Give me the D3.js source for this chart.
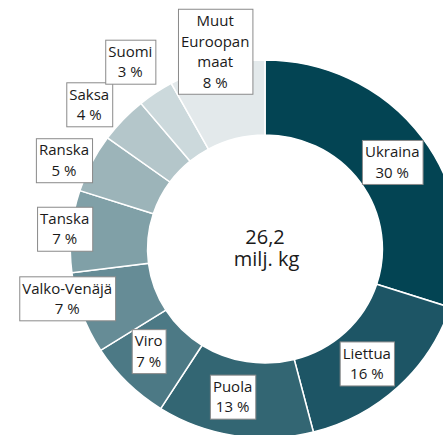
<!DOCTYPE html>
<html>
<head>
<meta charset="utf-8">
<script src="https://cdn.jsdelivr.net/npm/d3@7"></script>
<style>
  body { margin: 0; background: #fff; }
  svg { display: block; font-family: "Open Sans", "Noto Sans", sans-serif; }
</style>
</head>
<body>
<div id="chart"></div>
<script>
// ---- data ----
const countries = ["Ukraina", "Liettua", "Puola", "Viro", "Valko-Venäjä", "Tanska", "Ranska", "Saksa", "Suomi", "Muut Euroopan maat"];
const shares = [30, 16, 13, 7, 7, 7, 5, 4, 3, 8];
const totalLabel = ["26,2", "milj. kg"];

// ---- layout ----
const W = 443, H = 435;
const cx = 265, cy = 249;
const sx = 1.03;            // the source picture is a bit stretched sideways
const rOuter = 189, rInner = 114;
const colors = ["#034453", "#1d5565", "#336673", "#4c7985", "#668c96", "#80a0a7", "#9cb4b9", "#b4c6ca", "#ccd9dc", "#e3e9eb"];
// label lines (Excel wraps the long one)
const labelLines = [["Ukraina"], ["Liettua"], ["Puola"], ["Viro"], ["Valko-Venäjä"], ["Tanska"], ["Ranska"], ["Saksa"], ["Suomi"], ["Muut", "Euroopan", "maat"]];
// manual label shifts from the arc centroid (labels dragged out like in the original)
const labelShift = [[1, 2], [-5, 4], [-8, -2], [-6, -5], [-51, -2], [-45, -6], [-62, -20], [-62, -41], [-47, -62], [-11, -51]];

const svg = d3.select("#chart").append("svg")
    .attr("width", W)
    .attr("height", H);

const data = countries.map((c, i) => ({name: c, value: shares[i], i: i}));

const pie = d3.pie()
    .value(d => d.value)
    .sort(null);

const arc = d3.arc()
    .innerRadius(rInner)
    .outerRadius(rOuter);

const arcs = pie(data);

const g = svg.append("g")
    .attr("transform", "translate(" + cx + "," + cy + ")");

g.append("g")
    .attr("transform", "scale(" + sx + ",1)")
  .selectAll("path")
  .data(arcs)
  .join("path")
    .attr("d", arc)
    .attr("fill", d => colors[d.data.i])
    .attr("stroke", "#fff")
    .attr("stroke-width", 1.5);

// centre text
g.append("text")
    .attr("text-anchor", "middle")
    .attr("font-size", 20)
    .attr("fill", "#1a1a1a")
  .selectAll("tspan")
  .data(totalLabel)
  .join("tspan")
    .attr("x", (d, i) => i * 1.5)
    .attr("y", (d, i) => -5 + i * 22)
    .text(d => d);

// labels
const lineH = 20.5;
const lbl = g.selectAll(".lbl")
  .data(arcs)
  .join("g")
    .attr("class", "lbl")
    .attr("transform", d => {
        const c = arc.centroid(d);
        const s = labelShift[d.data.i];
        return "translate(" + (c[0] * sx + s[0]) + "," + (c[1] + s[1]) + ")";
    });

lbl.each(function(d) {
    const sel = d3.select(this);
    const lines = labelLines[d.data.i].concat([d.data.value + " %"]);
    const box = sel.append("rect")
        .attr("fill", "#fff")
        .attr("stroke", "#8a8a8a")
        .attr("stroke-width", 1);
    const t = sel.append("text")
        .attr("text-anchor", "middle")
        .attr("font-size", 15)
        .attr("fill", "#1a1a1a");
    const y0 = -(lines.length - 1) * lineH / 2;
    t.selectAll("tspan")
      .data(lines)
      .join("tspan")
        .attr("x", 0)
        .attr("y", (l, i) => y0 + i * lineH + 5.5)
        .text(l => l);
    const bb = t.node().getBBox();
    const w = bb.width + 6, h = lines.length * lineH + 3;
    box.attr("x", -w / 2 + 0.5)
        .attr("y", -h / 2 + 0.5)
        .attr("width", w)
        .attr("height", h);
});
</script>
</body>
</html>
